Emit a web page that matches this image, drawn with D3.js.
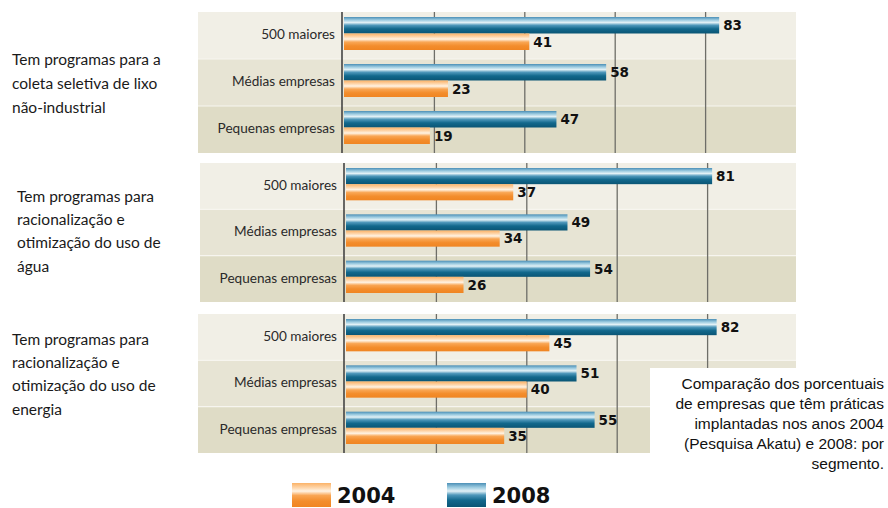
<!DOCTYPE html>
<html>
<head>
<meta charset="utf-8">
<script src="https://cdn.jsdelivr.net/npm/d3@7"></script>
<style>
  body { margin: 0; background: #fff; }
  svg { display: block; }
</style>
</head>
<body>
<div id="chart"></div>
<script>
// categories and values
const segments = ["500 maiores", "Médias empresas", "Pequenas empresas"];
const years = ["2008", "2004"];

const titles = [
  ["Tem programas para a", "coleta seletiva de lixo", "não-industrial"],
  ["Tem programas para", "racionalização e", "otimização do uso de", "água"],
  ["Tem programas para", "racionalização e", "otimização do uso de", "energia"]
];
const values2008 = [[83, 58, 47], [81, 49, 54], [82, 51, 55]];
const values2004 = [[41, 23, 19], [37, 34, 26], [45, 40, 35]];
const gridTicks = [0, 20, 40, 60, 80];

const note = [
  "Comparação dos porcentuais",
  "de empresas que têm práticas",
  "implantadas nos anos 2004",
  "(Pesquisa Akatu) e 2008: por",
  "segmento."
];

const W = 888, H = 508;
const svg = d3.select("#chart").append("svg").attr("width", W).attr("height", H);

// gradients for the shiny bars
const defs = svg.append("defs");
function grad(id, stops) {
  const g = defs.append("linearGradient").attr("id", id)
    .attr("x1", 0).attr("y1", 0).attr("x2", 0).attr("y2", 1);
  stops.forEach(s => g.append("stop").attr("offset", s[0]).attr("stop-color", s[1]));
}
grad("g2008", [[0, "#4b8fb6"], [0.18, "#9ccbe0"], [0.34, "#e2f1f6"], [0.5, "#4f98bb"], [0.72, "#12688c"], [1, "#0a5575"]]);
grad("g2004", [[0, "#fbb267"], [0.2, "#fed6ab"], [0.34, "#fff3e3"], [0.52, "#f9a654"], [0.75, "#f38d2c"], [1, "#f08522"]]);

const colour = { "2008": "url(#g2008)", "2004": "url(#g2004)" };
const rowFill = ["#f1efe6", "#e7e4d4", "#dfdcc6"];

// panel frames (pixel layout)
const panels = [
  { top: 12, bottom: 153, left: 198, shift: 0 },
  { top: 163, bottom: 302, left: 200, shift: 2 },
  { top: 314, bottom: 453, left: 198, shift: 2 }
];
const titleY = [[60, 84, 108], [197, 220, 243, 267], [340, 363, 386, 410]];
const titleX = [12, 17, 12];

panels.forEach((p, pi) => {
  const x = d3.scaleLinear().domain([0, 100]).range([344 + p.shift, 796 + p.shift]);
  const y = d3.scaleBand().domain(segments).range([p.top, p.bottom]);
  const yIn = d3.scaleBand().domain(years).range([5, y.bandwidth() - 9]);

  const g = svg.append("g");

  // row backgrounds
  g.selectAll("rect.row").data(segments).join("rect")
    .attr("class", "row")
    .attr("x", p.left).attr("width", 796 - p.left)
    .attr("y", d => y(d)).attr("height", y.bandwidth())
    .attr("fill", (d, i) => rowFill[i]);
  g.selectAll("line.sep").data(segments.slice(1)).join("line")
    .attr("class", "sep")
    .attr("x1", p.left).attr("x2", 796)
    .attr("y1", d => y(d)).attr("y2", d => y(d))
    .attr("stroke", "#f7f5ef").attr("stroke-width", 1.2);

  // gridlines
  g.selectAll("line.grid").data(gridTicks).join("line")
    .attr("class", "grid")
    .attr("x1", d => d === 0 ? x(d) - 2 : x(d))
    .attr("x2", d => d === 0 ? x(d) - 2 : x(d))
    .attr("y1", p.top).attr("y2", p.bottom)
    .attr("stroke", d => d === 0 ? "#444" : "#6e6e68")
    .attr("stroke-width", d => d === 0 ? 1.6 : 1.3);

  // category labels
  g.selectAll("text.cat").data(segments).join("text")
    .attr("class", "cat")
    .attr("x", 335 + p.shift)
    .attr("y", d => y(d) + y.bandwidth() / 2 - 1)
    .attr("dy", "0.35em")
    .attr("text-anchor", "end")
    .attr("font-family", "Lato, 'Open Sans', sans-serif")
    .attr("font-size", 13.6)
    .attr("fill", "#2a2a2a")
    .text(d => d);

  const rows = segments.map((s, i) => ({ seg: s, "2008": values2008[pi][i], "2004": values2004[pi][i] }));
  const bars = rows.flatMap(r => years.map(yr => ({ seg: r.seg, year: yr, v: r[yr] })));

  g.selectAll("rect.bar").data(bars).join("rect")
    .attr("class", "bar")
    .attr("x", x(0))
    .attr("y", d => y(d.seg) + yIn(d.year))
    .attr("width", d => x(d.v) - x(0))
    .attr("height", yIn.bandwidth())
    .attr("fill", d => colour[d.year]);

  g.selectAll("text.val").data(bars).join("text")
    .attr("class", "val")
    .attr("x", d => x(d.v) + 4)
    .attr("y", d => y(d.seg) + yIn(d.year) + yIn.bandwidth() / 2)
    .attr("dy", "0.36em")
    .attr("font-family", "'DejaVu Sans', sans-serif")
    .attr("font-weight", "bold")
    .attr("font-size", 13.5)
    .attr("fill", "#111")
    .text(d => d.v);

  // title on the left
  svg.append("g").selectAll("text").data(titles[pi]).join("text")
    .attr("x", titleX[pi])
    .attr("y", (d, i) => titleY[pi][i])
    .attr("dy", "0.35em")
    .attr("font-family", "Lato, sans-serif")
    .attr("font-size", 15.5)
    .attr("fill", "#1a1a1a")
    .text(d => d);
});

// note box covering the lower right corner
svg.append("rect").attr("x", 650).attr("y", 368).attr("width", W - 650).attr("height", 105).attr("fill", "#fff");
svg.append("g").selectAll("text").data(note).join("text")
  .attr("x", 884)
  .attr("y", (d, i) => 384 + i * 20)
  .attr("dy", "0.35em")
  .attr("text-anchor", "end")
  .attr("font-family", "'Liberation Sans', Arial, sans-serif")
  .attr("font-size", 15.5)
  .attr("fill", "#111")
  .text(d => d);

// legend
const legend = [{ year: "2004", x: 292 }, { year: "2008", x: 447 }];
const lg = svg.append("g").selectAll("g").data(legend).join("g")
  .attr("transform", d => `translate(${d.x},483)`);
lg.append("rect").attr("width", 39).attr("height", 24).attr("fill", d => colour[d.year]);
lg.append("text")
  .attr("x", 45).attr("y", 12).attr("dy", "0.36em")
  .attr("font-family", "'DejaVu Sans', sans-serif")
  .attr("font-weight", "bold")
  .attr("font-size", 21)
  .attr("fill", "#111")
  .text(d => d.year);
</script>
</body>
</html>
